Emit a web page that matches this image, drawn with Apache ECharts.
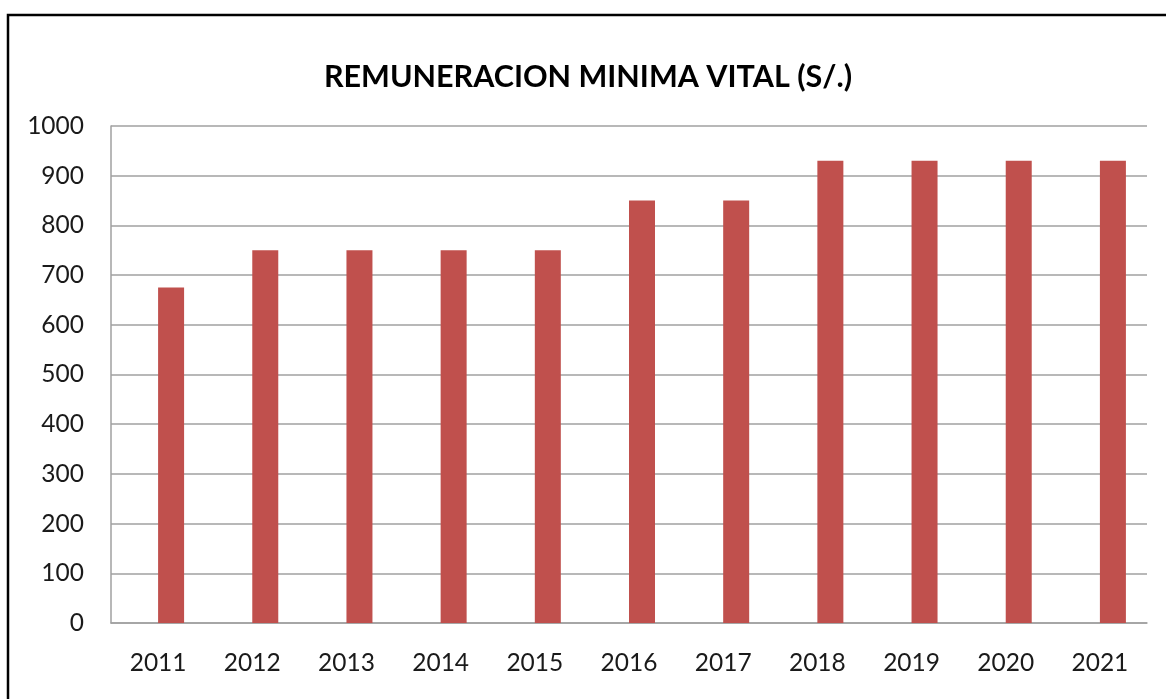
<!DOCTYPE html>
<html>
<head>
<meta charset="utf-8">
<script src="https://cdn.jsdelivr.net/npm/echarts@6/dist/echarts.min.js"></script>
<style>
html,body{margin:0;padding:0;background:#fff;}
#chart{width:1166px;height:699px;}
</style>
</head>
<body>
<div id="chart"></div>
<script>
const titleText = 'REMUNERACION MINIMA VITAL (S/.)';
const years = ['2011','2012','2013','2014','2015','2016','2017','2018','2019','2020','2021'];
const wages = [675, 750, 750, 750, 750, 850, 850, 930, 930, 930, 930];
// empty companion series (occupies the first slot of each cluster, as in the original)
const emptySeries = years.map(() => null);
const yTicks = { min: 0, max: 1000, interval: 100 };

const FONT = 'Lato, "Open Sans", sans-serif';
const chart = echarts.init(document.getElementById('chart'), null, {renderer: 'canvas'});
chart.setOption({
  animation: false,
  backgroundColor: '#ffffff',
  title: {
    text: titleText,
    left: 583, top: 57,
    textAlign: 'center',
    textStyle: { fontFamily: FONT, fontWeight: 'bold', fontSize: 30.5, color: '#000' }
  },
  graphic: [{
    type: 'rect',
    shape: { x: 8, y: 15, width: 1200, height: 800 },
    style: { fill: 'none', stroke: '#000', lineWidth: 2.5 },
    silent: true
  }],
  grid: { left: 111, right: 19, top: 126, bottom: 76, containLabel: false },
  xAxis: {
    type: 'category',
    data: years,
    axisLine: { show: true, lineStyle: { color: '#a0a0a0', width: 1.5 } },
    axisTick: { show: false },
    axisLabel: { margin: 28, fontFamily: FONT, fontSize: 24.5, color: '#1a1a1a' },
    splitLine: { show: false }
  },
  yAxis: {
    type: 'value',
    min: yTicks.min, max: yTicks.max, interval: yTicks.interval,
    axisLine: { show: true, lineStyle: { color: '#a0a0a0', width: 1.5 } },
    axisTick: { show: false },
    axisLabel: { margin: 27, fontFamily: FONT, fontSize: 24.5, color: '#1a1a1a', formatter: v => String(v) },
    splitLine: { show: true, lineStyle: { color: '#a0a0a0', width: 1.5 } }
  },
  series: [
    { type: 'bar', name: 'blank', data: emptySeries, barWidth: 26, barGap: '0%', itemStyle: { color: 'transparent' } },
    { type: 'bar', name: 'RMV', data: wages, barWidth: 26, barGap: '0%', itemStyle: { color: '#c0504d' } }
  ]
});
</script>
</body>
</html>
